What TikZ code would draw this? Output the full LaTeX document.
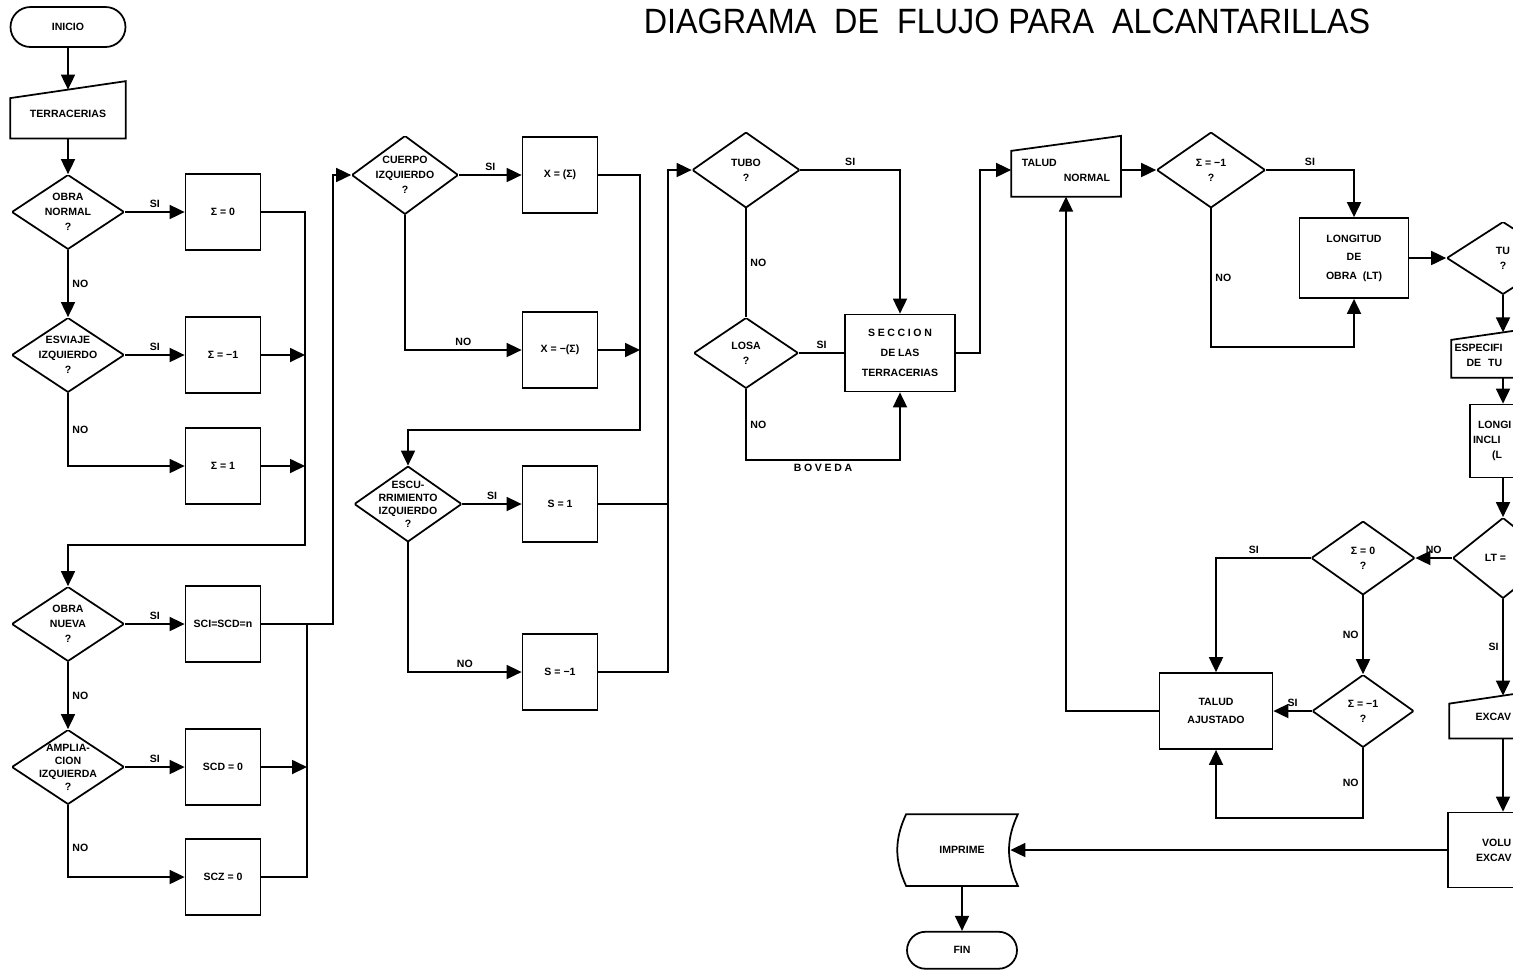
\documentclass[tikz,border=0pt]{standalone}
\usepackage{fontspec}
\setmainfont{Liberation Sans}
\usetikzlibrary{arrows.meta,positioning}

\begin{document}
\begin{tikzpicture}[x=0.02cm, y=-0.02cm, line width=1pt,
    >={Triangle[length=3mm, width=2.8mm]},
    font=\fontsize{6}{8.5}\selectfont\bfseries,
    term/.style={draw, rectangle, rounded corners=0.4cm, minimum width=2.3cm, minimum height=0.8cm},
    proc/.style={draw, rectangle, inner sep=1pt, minimum width=1.5cm, minimum height=1.52cm, align=center},
    cond/.style={rectangle, inner sep=0pt, align=center, minimum width=2.24cm, minimum height=1.48cm,
        path picture={\draw[line width=1pt] (path picture bounding box.west) -- (path picture bounding box.north)
            -- (path picture bounding box.east) -- (path picture bounding box.south) -- cycle;}},
    tight/.style={font=\fontsize{6}{7.4}\selectfont\bfseries},
    inbox/.style={rectangle, inner sep=0pt, align=center},
    lbl/.style={inner sep=2pt}]
        \useasboundingbox (0,0) rectangle (1513,975);
        \clip (0,0) rectangle (1513,975);
        \fill[white] (0,0) rectangle (1513,975);

        % Title
        \node (titulo) at (1007,21) {\fontsize{20}{20}\selectfont\mdseries\scalebox{0.92}[1]{DIAGRAMA\ \ DE\ \ FLUJO PARA\ \ ALCANTARILLAS}};

        % Left column
        \node (inicio) [term] at (68,27) {INICIO};
        \node (terr) [inbox, minimum width=2.28cm, minimum height=0.94cm] at (68,114) {TERRACERIAS};
        \node (obran) [cond] at (68,212) {OBRA\\NORMAL\\?};
        \node (s0) [proc] at (223,212) {Σ = 0};
        \node (esv) [cond] at (68,355) {ESVIAJE\\IZQUIERDO\\?};
        \node (sm1) [proc] at (223,355) {Σ = −1};
        \node (s1) [proc] at (223,466) {Σ = 1};
        \node (obranu) [cond] at (68,624) {OBRA\\NUEVA\\?};
        \node (sci) [proc] at (223,624) {SCI=SCD=n};
        \node (ampl) [cond, tight] at (68,767) {AMPLIA-\\CION\\IZQUIERDA\\?};
        \node (scd) [proc] at (223,767) {SCD = 0};
        \node (scz) [proc] at (223,877) {SCZ = 0};

        % Second column
        \node (cuerpo) [cond, minimum width=2.12cm, minimum height=1.56cm] at (405,175) {CUERPO\\IZQUIERDO\\?};
        \node (xpos) [proc] at (560,175) {X = (Σ)};
        \node (xneg) [proc] at (560,350) {X = −(Σ)};
        \node (escu) [cond, tight, minimum width=2.14cm, minimum height=1.5cm] at (408,504) {ESCU-\\RRIMIENTO\\IZQUIERDO\\?};
        \node (s1b) [proc] at (560,504) {S = 1};
        \node (sm1b) [proc] at (560,672) {S = −1};

        % Third column
        \node (tubo) [cond, minimum width=2.14cm, minimum height=1.5cm] at (746,170) {TUBO\\?};
        \node (losa) [cond, minimum width=2.08cm, minimum height=1.4cm] at (746,353) {LOSA\\?};
        \node (secc) [proc, minimum width=2.2cm, minimum height=1.54cm] at (900,353) {{\addfontfeature{LetterSpace=25}SECCION}\\[3pt]DE LAS\\[3pt]TERRACERIAS};

        % Fourth column
        \node (taludn) [inbox, align=left, minimum width=2.16cm, minimum height=1.03cm] at (1066,170) {TALUD\\\hspace*{0.84cm}NORMAL};
        \node (sig1) [cond, minimum width=2.16cm, minimum height=1.5cm] at (1211,170) {Σ = −1\\?};
        \node (longt) [proc, minimum width=2.18cm, minimum height=1.6cm] at (1354,258) {LONGITUD\\[2pt]DE\\[2pt]OBRA \ (LT)};
        \node (tub2) [cond, minimum width=2.24cm, minimum height=1.44cm] at (1503,258) {TU\\?};
        \node (esp) [inbox, text width=1.94cm, align=left, minimum width=2.04cm, minimum height=0.87cm] at (1503,355) {ESPECIFI\\\hspace*{0.24cm}DE \ TU};
        \node (lgi) [proc, text width=1.2cm, align=left, minimum width=1.32cm, minimum height=1.46cm] at (1503,441) {\hspace*{0.1cm}LONGI\\INCLI\\\hspace*{0.38cm}(L};
        \node (lt) [cond, minimum width=2cm, minimum height=1.6cm] at (1503,558) {LT =\hspace*{3mm}};
        \node (sig0) [cond, minimum width=2.06cm, minimum height=1.46cm] at (1363,558) {Σ = 0\\?};
        \node (sigm1) [cond, minimum width=2.02cm, minimum height=1.44cm] at (1363,711) {Σ = −1\\?};
        \node (talaj) [proc, minimum width=2.26cm, minimum height=1.52cm] at (1216,711) {TALUD\\[2pt]AJUSTADO};
        \node (exc) [inbox, text width=1.9cm, align=left, minimum width=2.12cm, minimum height=0.82cm] at (1503,717) {\hspace*{0.4cm}EXCAV};
        \node (vol) [proc, text width=2.0cm, align=left, minimum width=2.2cm, minimum height=1.5cm] at (1503,850) {\hspace*{0.58cm}VOLU\\\hspace*{0.46cm}EXCAV};

        % Output
        \node (impr) [inbox, minimum width=2.2cm, minimum height=1.4cm] at (962,850) {IMPRIME};
        \node (fin) [term, minimum width=2.2cm, minimum height=0.74cm, rounded corners=0.37cm, below=0.9cm of impr] {FIN};

        % Input and output outlines
        \draw (terr.south west) -- (terr.south east) -- ([yshift=0.17cm]terr.north east) -- ([yshift=-0.17cm]terr.north west) -- cycle;
        \draw (taludn.south west) -- (taludn.south east) -- ([yshift=0.15cm]taludn.north east) -- ([yshift=-0.15cm]taludn.north west) -- cycle;
        \draw (esp.south west) -- (esp.south east) -- ([yshift=0.15cm]esp.north east) -- ([yshift=-0.15cm]esp.north west) -- cycle;
        \draw (exc.south west) -- (exc.south east) -- ([yshift=0.16cm]exc.north east) -- ([yshift=-0.16cm]exc.north west) -- cycle;
        \draw (impr.north west) to[bend right=25] (impr.south west) -- (impr.south east) to[bend left=25] (impr.north east) -- cycle;

        % Junctions
        \coordinate (c1) at (305,545);
        \coordinate (c2) at (307,624);
        \coordinate (c3) at (333,175);
        \coordinate (c4) at (640,430);
        \coordinate (c5) at (668,170);
        \coordinate (c6) at (900,460);
        \coordinate (c7) at (980,170);
        \coordinate (c8) at (1354,347);
        \coordinate (c9) at (1216,818);

        % Arrows, left column
        \draw [->] (inicio) -- (terr);
        \draw [->] (terr) -- (obran);
        \draw [->] (obran) -- node[lbl, above] {SI} (s0);
        \draw [->] (obran) -- node[lbl, right] {NO} (esv);
        \draw [->] (esv) -- node[lbl, above] {SI} (sm1);
        \draw [->] (esv.south) |- node[lbl, right, pos=0.25] {NO} (s1.west);
        \draw [->] (s0.east) -| (c1) -| (obranu.north);
        \draw [->] (sm1.east) -- (sm1.east -| c1);
        \draw [->] (s1.east) -- (s1.east -| c1);
        \draw [->] (obranu) -- node[lbl, above] {SI} (sci);
        \draw [->] (obranu) -- node[lbl, right] {NO} (ampl);
        \draw [->] (ampl) -- node[lbl, above] {SI} (scd);
        \draw [->] (ampl.south) |- node[lbl, right, pos=0.3] {NO} (scz.west);
        \draw [->] (scd.east) -- (scd.east -| c2);
        \draw (scz.east) -| (c2);
        \draw [->] (sci.east) -| (c3) -- (cuerpo.west);

        % Arrows, second column
        \draw [->] (cuerpo) -- node[lbl, above] {SI} (xpos);
        \draw [->] (cuerpo.south) |- node[lbl, above, pos=0.75] {NO} (xneg.west);
        \draw [->] (xpos.east) -| (c4) -| (escu.north);
        \draw [->] (xneg.east) -- (xneg.east -| c4);
        \draw [->] (escu) -- node[lbl, above] {SI} (s1b);
        \draw [->] (escu.south) |- node[lbl, above, pos=0.75] {NO} (sm1b.west);
        \draw (s1b.east) -- (s1b.east -| c5);
        \draw [->] (sm1b.east) -| (c5) -- (tubo.west);

        % Arrows, third column
        \draw [->] (tubo.east) -| node[lbl, above, pos=0.25] {SI} (secc.north);
        \draw (tubo) -- node[lbl, right] {NO} (losa);
        \draw (losa) -- node[lbl, above] {SI} (secc);
        \draw [->] (losa.south) |- node[lbl, right, pos=0.25] {NO} node[lbl, below, pos=0.75] {\addfontfeature{LetterSpace=25}BOVEDA} (c6) -- (secc.south);
        \draw [->] (secc.east) -| (c7) -- (taludn.west);

        % Arrows, fourth column
        \draw [->] (taludn) -- (sig1);
        \draw [->] (sig1.east) -| node[lbl, above, pos=0.25] {SI} (longt.north);
        \draw [->] (sig1.south) |- node[lbl, right, pos=0.25] {NO} (c8) -- (longt.south);
        \draw [->] (longt) -- (tub2);
        \draw [->] (tub2) -- (esp);
        \draw [->] (esp) -- (lgi);
        \draw [->] (lgi) -- (lt);
        \draw [->] (lt) -- node[lbl, above] {NO} (sig0);
        \draw [->] (lt) -- node[lbl, left] {SI} (exc);
        \draw [->] (exc) -- (vol);
        \draw [->] (sig0.west) -| node[lbl, above, pos=0.3] {SI} (talaj.north);
        \draw [->] (sig0) -- node[lbl, left] {NO} (sigm1);
        \draw [->] (sigm1) -- node[lbl, above] {SI} (talaj);
        \draw [->] (sigm1.south) |- node[lbl, left, pos=0.25] {NO} (c9) -- (talaj.south);
        \draw [->] (talaj.west) -| (taludn.south);
        \draw [->, shorten >=-1.5mm] (vol) -- (impr);
        \draw [->] (impr) -- (fin);
    \end{tikzpicture}
\end{document}
